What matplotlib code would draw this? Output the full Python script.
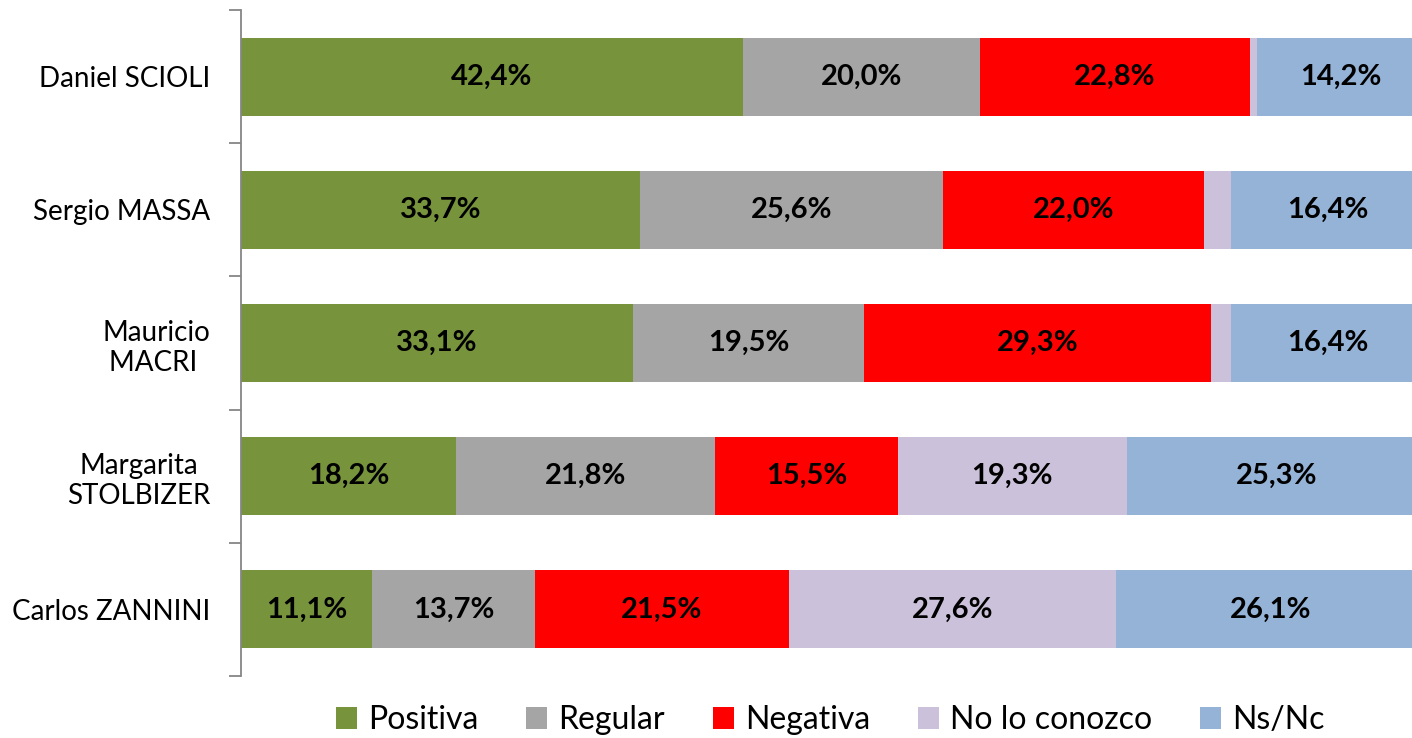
import numpy as np
import matplotlib.pyplot as plt

plt.rcParams['font.family'] = ['Lato', 'DejaVu Sans']

# ── Data ──────────────────────────────────────────────────
candidates = ["Daniel SCIOLI", "Sergio MASSA", "Mauricio\nMACRI ",
              "Margarita\nSTOLBIZER", "Carlos ZANNINI"]
series = ["Positiva", "Regular", "Negativa", "No lo conozco", "Ns/Nc"]
positiva = [42.4, 33.7, 33.1, 18.2, 11.1]
regular = [20.0, 25.6, 19.5, 21.8, 13.7]
negativa = [22.8, 22.0, 29.3, 15.5, 21.5]
no_conozco = [0.6, 2.3, 1.7, 19.3, 27.6]
ns_nc = [14.2, 16.4, 16.4, 25.3, 26.1]
colors = ["#77933C", "#A5A5A5", "#FF0000", "#CCC1DA", "#95B3D7"]

values = [positiva, regular, negativa, no_conozco, ns_nc]

# ── Figure ────────────────────────────────────────────────
fig = plt.figure(figsize=(14.12, 7.38), dpi=100)
ax = fig.add_axes([241 / 1412, 62 / 738, 1184 / 1412, 666 / 738])

y = np.arange(len(candidates))
left = np.zeros(len(candidates))
for name, vals, col in zip(series, values, colors):
    vals = np.array(vals)
    ax.barh(y, vals, left=left, height=0.585, color=col, label=name)
    for yi, (l, v) in enumerate(zip(left, vals)):
        if v >= 5:
            ax.text(l + v / 2, yi, f"{v:.1f}%".replace(".", ","),
                    ha="center", va="center", fontsize=21, fontweight="bold",
                    color="black")
    left += vals

ax.set_xlim(0, 100)
ax.set_ylim(len(candidates) - 0.5, -0.5)

ax.set_yticks(y)
ax.set_yticklabels(candidates, fontsize=20, multialignment="center")
ax.tick_params(axis="y", which="major", length=0, pad=22)
ax.set_yticks(np.arange(-0.5, len(candidates)), minor=True)
ax.tick_params(axis="y", which="minor", length=9, width=1.3, color="#868686")
ax.set_xticks([])

for s in ["top", "right", "bottom"]:
    ax.spines[s].set_visible(False)
ax.spines["left"].set_color("#868686")
ax.spines["left"].set_linewidth(1.3)

fig.legend(loc="lower center", bbox_to_anchor=(0.588, -0.035), ncol=5,
           frameon=False, fontsize=23, handlelength=0.65, handleheight=0.65,
           handletextpad=0.35, columnspacing=1.5)

fig.savefig("out.png", dpi=100)
